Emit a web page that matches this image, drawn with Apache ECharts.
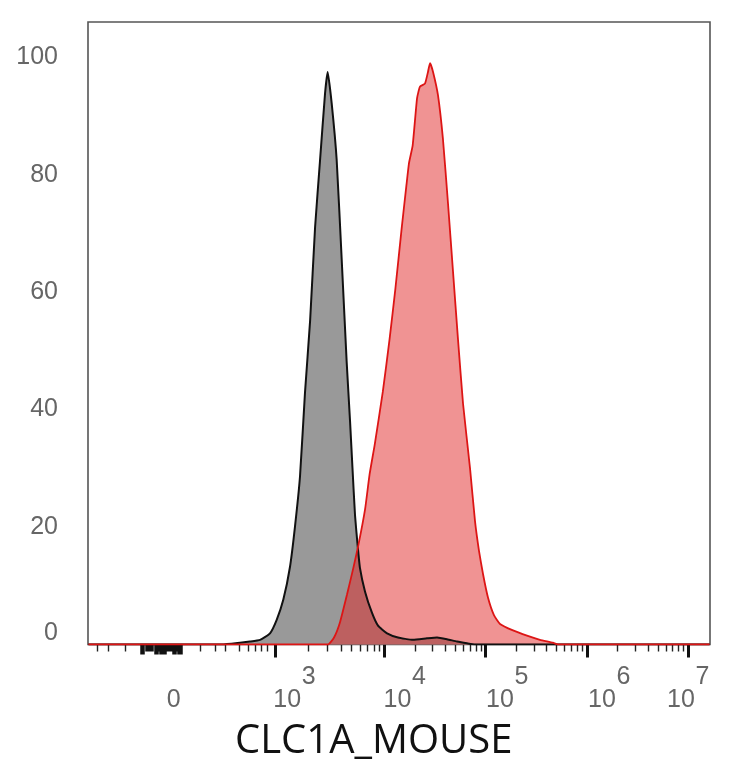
<!DOCTYPE html>
<html><head><meta charset="utf-8">
<script src="https://cdn.jsdelivr.net/npm/echarts@6/dist/echarts.min.js"></script>
<style>html,body{margin:0;padding:0;background:#fff}#c{width:734px;height:768px}</style>
</head><body><div id="c"></div>
<script>
// X axis is in display units of the biexponential scale (10^n sits at n for n>=4)
const xAxisLabels = ['0', '10^3', '10^4', '10^5', '10^6', '10^7'];
const xLabelPos   = [1.854, 2.905, 3.993, 5.004, 6.010, 6.79];
const majorTickPos = [2.928, 4, 5, 6, 7];
const negTickPos = [1.172, 1.276, 1.448];
const subThousandTickPos = [2.181, 2.329, 2.428, 2.566, 2.658, 2.724, 2.783, 2.849];
const zeroBlock = [1.598, 2.003];
const zeroBlockTall = [[1.598, 1.637], [1.736, 1.854], [1.913, 2.003]];
const yTicks = [0, 20, 40, 60, 80, 100];
const xMin = 1.076, xMax = 7.214, yMax = 106;

// isotype control (gray)
const grayX = [1.08, 2.398, 2.576, 2.674, 2.774, 2.872, 2.938, 3.003, 3.069, 3.118, 3.168, 3.217, 3.268, 3.317, 3.366, 3.415, 3.441,
  3.481, 3.530, 3.580, 3.629, 3.662, 3.686, 3.711, 3.736, 3.760, 3.810, 3.876, 3.938, 4.027, 4.135, 4.283, 4.421, 4.520, 4.619, 4.717, 4.816, 4.895, 7.21];
const grayY = [0, 0, 0.3, 0.5, 0.8, 1.9, 4.2, 7.6, 13.2, 20, 28.6, 42.8, 55.2, 71.1, 82.5, 93.8, 97.5,
  92.1, 82.5, 65.4, 48, 38, 30, 22, 17, 13, 9, 5.5, 3.2, 1.9, 1.2, 0.8, 1.05, 1.2, 0.9, 0.5, 0.2, 0, 0];

// CLC1A_MOUSE stained (red)
const redX = [1.08, 3.444, 3.504, 3.563, 3.632, 3.694, 3.745, 3.810, 3.855, 3.905, 3.985, 4.052, 4.110, 4.172, 4.217, 4.244, 4.280,
  4.323, 4.352, 4.401, 4.431, 4.451, 4.481, 4.530, 4.579, 4.629, 4.678, 4.727, 4.777, 4.846, 4.895, 4.934, 4.974, 5.023, 5.082,
  5.142, 5.270, 5.408, 5.536, 5.664, 5.714, 7.21];
const redY = [0, 0, 1.2, 3.8, 8.5, 13, 17, 23, 29, 34, 43, 52, 60.7, 71, 78, 82, 85,
  93, 95, 95.5, 97.5, 99, 97.5, 93.5, 86, 75, 63.5, 52, 41, 30, 21, 16, 12, 8, 5,
  3.5, 2.4, 1.5, 0.8, 0.3, 0, 0];

function zip(xs, ys) { return xs.map((x, i) => [x, ys[i]]); }

// minor log ticks
const minorTicks = negTickPos.concat(subThousandTickPos);
for (let k = 2; k <= 9; k++) minorTicks.push(2.928 + 1.072 * Math.log10(k));
for (let n = 4; n <= 6; n++) for (let k = 2; k <= 9; k++) minorTicks.push(n + Math.log10(k));
const blockShort = [];
for (let v = zeroBlock[0]; v <= zeroBlock[1] + 1e-9; v += 0.011) blockShort.push(+v.toFixed(4));
const blockTall = [];
zeroBlockTall.forEach(r => { for (let v = r[0]; v <= r[1] + 1e-9; v += 0.011) blockTall.push(+v.toFixed(4)); });

const labelFont = 'Liberation Sans, Arial, sans-serif';
function baseX(extra) {
  return Object.assign({
    type: 'value', min: xMin, max: xMax, gridIndex: 0, position: 'bottom',
    axisLine: { show: false }, splitLine: { show: false },
    axisLabel: { show: false }, axisTick: { show: false }
  }, extra);
}

const chart = echarts.init(document.getElementById('c'), null, { renderer: 'canvas' });
chart.setOption({
  animation: false,
  backgroundColor: '#fff',
  title: {
    text: 'CLC1A_MOUSE', left: 230, top: 717,
    textStyle: { fontFamily: 'Open Sans', fontSize: 40, fontWeight: 'normal', color: '#111' }
  },
  grid: { left: 88, right: 24, top: 22, bottom: 123.5, show: true, borderColor: '#555', borderWidth: 1.6, backgroundColor: '#fff' },
  xAxis: [
    baseX({
      axisTick: { show: true, customValues: majorTickPos, length: 13, lineStyle: { color: '#111', width: 3 } },
      axisLabel: {
        show: true, customValues: xLabelPos, align: 'left', verticalAlign: 'top', margin: 22,
        formatter: function (v) {
          let idx = 0, best = 1e9;
          xLabelPos.forEach((p, i) => { if (Math.abs(p - v) < best) { best = Math.abs(p - v); idx = i; } });
          const s = xAxisLabels[idx];
          if (s.indexOf('^') < 0) return '{s| }\n{b|' + s + '}';
          const parts = s.split('^');
          return '{s|' + parts[1] + '}\n{b|' + parts[0] + '}';
        },
        rich: {
          b: { fontFamily: labelFont, fontSize: 25, color: '#666', lineHeight: 24 },
          s: { fontFamily: labelFont, fontSize: 25, color: '#666', lineHeight: 22, padding: [0, 0, 0, 28.5] }
        }
      }
    }),
    baseX({ axisTick: { show: true, customValues: minorTicks, length: 7, lineStyle: { color: '#222', width: 1.4 } } }),
    baseX({ axisTick: { show: true, customValues: blockShort, length: 7, lineStyle: { color: '#111', width: 1.5 } } }),
    baseX({ axisTick: { show: true, customValues: blockTall, length: 10, lineStyle: { color: '#111', width: 1.5 } } })
  ],
  yAxis: {
    type: 'value', min: 0, max: yMax,
    axisLine: { show: false }, axisTick: { show: false }, splitLine: { show: false },
    axisLabel: {
      customValues: yTicks, margin: 30,
      formatter: v => v === 0 ? '{z|0}' : '{n|' + v + '}',
      rich: {
        n: { fontFamily: labelFont, fontSize: 25, color: '#666' },
        z: { fontFamily: labelFont, fontSize: 25, color: '#666', padding: [0, 0, 22, 0] }
      }
    }
  },
  series: [
    {
      type: 'line', xAxisIndex: 0, data: zip(grayX, grayY), showSymbol: false, smooth: 0.15,
      lineStyle: { color: '#111', width: 2 },
      areaStyle: { color: '#999999', opacity: 1 }
    },
    {
      type: 'line', xAxisIndex: 0, data: zip(redX, redY), showSymbol: false, smooth: 0.15,
      lineStyle: { color: '#dd1515', width: 1.8 },
      areaStyle: { color: 'rgb(225,40,40)', opacity: 0.5 }
    }
  ]
});
</script></body></html>
